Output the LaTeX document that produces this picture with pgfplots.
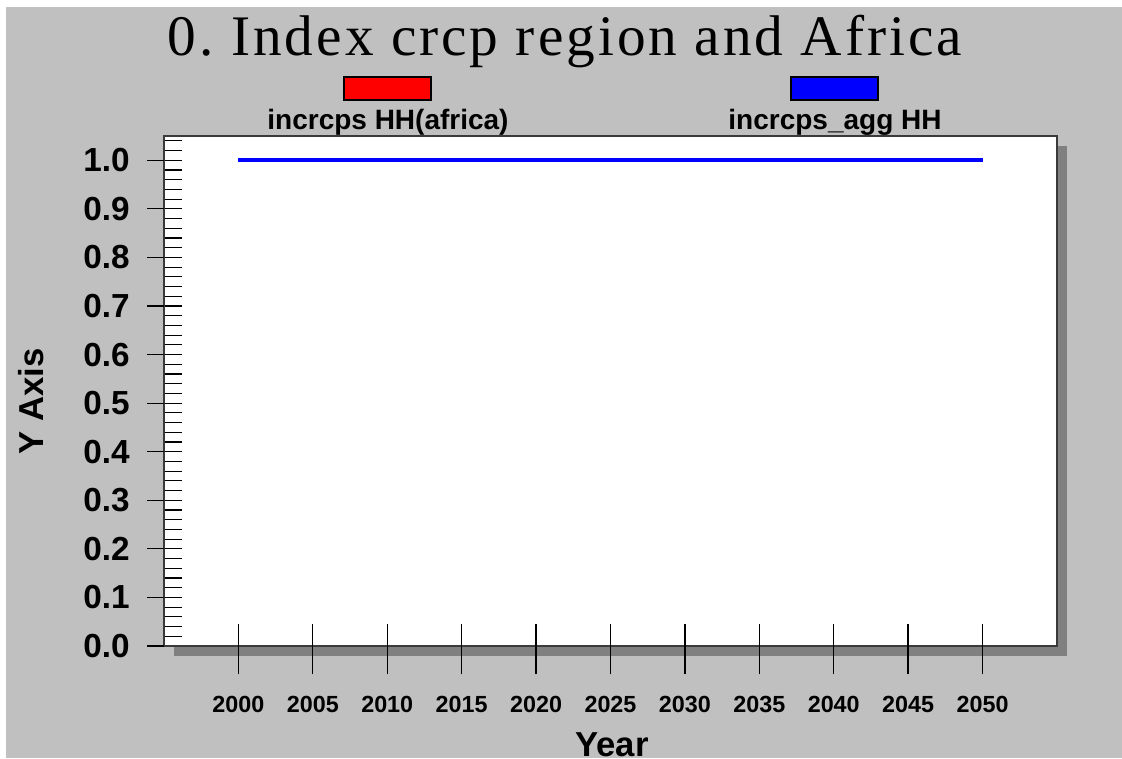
\documentclass[border=0pt]{standalone}
\usepackage{fontspec}
\setmainfont{Liberation Sans}
\newfontfamily\titlefont[LetterSpace=5.2]{Liberation Serif}
\usepackage{pgfplots}
\pgfplotsset{compat=1.18}
\definecolor{bggray}{HTML}{C0C0C0}
\definecolor{shadowgray}{HTML}{808080}
\definecolor{framegray}{HTML}{3A3A3A}

% one pixel of the 1122x758 picture = 0.75pt
\newcommand{\px}[2]{({(#1)*0.75pt},{(758-(#2))*0.75pt})}

\pgfplotstableread{
year value
2000 1.0
2005 1.0
2010 1.0
2015 1.0
2020 1.0
2025 1.0
2030 1.0
2035 1.0
2040 1.0
2045 1.0
2050 1.0
}\africa

\pgfplotstableread{
year value
2000 1.0
2005 1.0
2010 1.0
2015 1.0
2020 1.0
2025 1.0
2030 1.0
2035 1.0
2040 1.0
2045 1.0
2050 1.0
}\agg

\begin{document}
\frenchspacing
\begin{tikzpicture}
\useasboundingbox (0,0) rectangle (841.5pt,568.5pt);
\fill[white] (0,0) rectangle (841.5pt,568.5pt);
\fill[bggray] \px{6}{7} rectangle \px{1122}{758};
\fill[shadowgray] \px{174}{146} rectangle \px{1067}{656};

% legend
\filldraw[fill=red, draw=black, line width=0.8pt] \px{344}{77} rectangle \px{431}{100};
\filldraw[fill=blue, draw=black, line width=0.8pt] \px{791}{77} rectangle \px{878}{100};
\node[anchor=base, font=\bfseries\fontsize{21}{24}\selectfont, inner sep=0pt] at \px{388}{130} {incrcps HH(africa)};
\node[anchor=base, font=\bfseries\fontsize{21}{24}\selectfont, inner sep=0pt] at \px{835}{130} {incrcps\_agg HH};

\begin{axis}[
  at={(123pt,84pt)}, anchor=south west,
  scale only axis, width=669.75pt, height=382.5pt,
  xmin=1995, xmax=2055, ymin=0, ymax=1.05,
  axis background/.style={fill=white},
  axis line style={framegray, line width=1.6pt},
  /pgf/number format/assume math mode=true,
  tick align=inside,
  major tick length=13.5pt,
  xtick=\empty,
  xtick pos=bottom,
  ytick pos=left,
  ytick={0,0.02,0.04,0.06,0.08,0.1,0.12,0.14,0.16,0.18,0.2,0.22,0.24,0.26,0.28,0.3,0.32,0.34,0.36,0.38,0.4,0.42,0.44,0.46,0.48,0.5,0.52,0.54,0.56,0.58,0.6,0.62,0.64,0.66,0.68,0.7,0.72,0.74,0.76,0.78,0.8,0.82,0.84,0.86,0.88,0.9,0.92,0.94,0.96,0.98,1.0,1.02,1.04},
  yticklabels={},
  y tick style={black, line width=0.9pt},
  extra x ticks={2000,2005,2010,2015,2020,2025,2030,2035,2040,2045,2050},
  extra x tick style={tick align=center, major tick length=37.5pt,
    tick style={black, line width=1pt, yshift=-2.25pt},
    xticklabel style={/pgf/number format/1000 sep={}, yshift=-15pt,
      font=\bfseries\fontsize{17.5}{19}\selectfont}},
  extra y ticks={0,0.1,0.2,0.3,0.4,0.5,0.6,0.7,0.8,0.9,1.0},
  extra y tick style={tick align=outside, major tick length=12.75pt,
    tick style={black!70, line width=1pt},
    yticklabel style={/pgf/number format/.cd, fixed, fixed zerofill, precision=1, /tikz/.cd,
      xshift=-9.5pt, font=\bfseries\fontsize{25}{27}\selectfont}},
  xlabel={Year},
  xlabel style={at={(axis description cs:0.5017,-0.2157)}, anchor=base, font=\bfseries\fontsize{26}{28}\selectfont},
  ylabel={Y Axis},
  ylabel style={at={(axis description cs:-0.149,0.48)}, anchor=center, font=\bfseries\fontsize{26}{28}\selectfont},
  title={0. Index crcp region and Africa},
  title style={at={(axis description cs:0.449,1.1412)}, anchor=base, font=\titlefont\fontsize{43}{48}\selectfont},
]
\addplot[red, line width=3pt] table[x=year, y=value] {\africa};
\addplot[blue, line width=3pt] table[x=year, y=value] {\agg};
\end{axis}
\end{tikzpicture}
\end{document}
